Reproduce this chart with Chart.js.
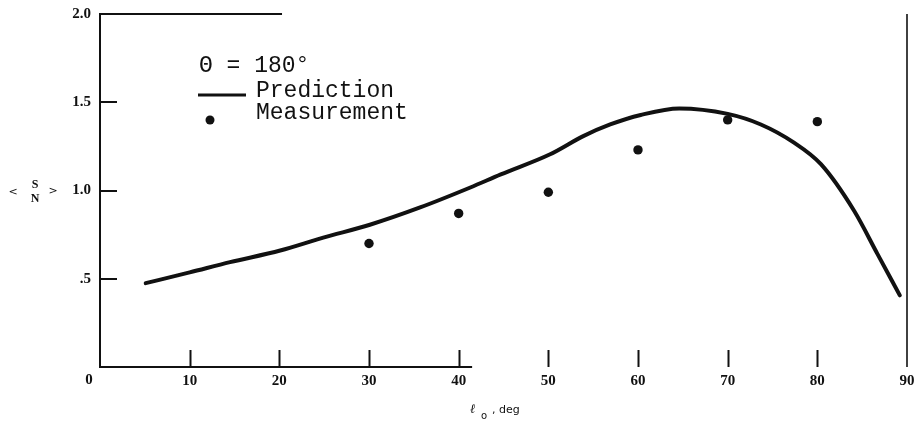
<!DOCTYPE html>
<html><head><meta charset="utf-8">
<script src="https://cdn.jsdelivr.net/npm/chart.js@4"></script>
<style>html,body{margin:0;padding:0;background:#fff}#wrap{width:917px;height:424px}</style>
</head><body><div id="wrap"><canvas id="c" width="917" height="424"></canvas></div>
<script>
// ---- data ----
const xTickValues = [0, 10, 20, 30, 40, 50, 60, 70, 80, 90];
const yTickValues = [0, 0.5, 1.0, 1.5, 2.0];
const predictionDeg = [5.1, 10, 14.5, 20.1, 24.9, 30.1, 35.7, 41.3, 44.7, 50.2, 53.9, 56.9, 60.3, 64.6, 70.0, 73.7, 77.4, 80.4, 84.1, 86.7, 89.2];
const predictionVal = [0.475, 0.536, 0.594, 0.66, 0.733, 0.806, 0.904, 1.017, 1.091, 1.205, 1.308, 1.374, 1.428, 1.465, 1.434, 1.374, 1.271, 1.149, 0.885, 0.641, 0.406];
const measurementDeg = [30, 40, 50, 60, 70, 80];
const measurementVal = [0.70, 0.87, 0.99, 1.23, 1.40, 1.39];
const legendTitle = 'Θ = 180°';
const legendPrediction = 'Prediction';
const legendMeasurement = 'Measurement';
const xTitleSymbol = 'ℓ';
const xTitleSub = 'o';
const xTitleRest = ', deg';
const xZeroLabel = '0';

const INK = '#111';

const framePlugin = {
  id: 'frame',
  afterDraw(chart) {
    const ctx = chart.ctx, a = chart.chartArea;
    const xs = chart.scales.x, ys = chart.scales.y;
    ctx.save();
    ctx.strokeStyle = INK; ctx.fillStyle = INK; ctx.lineCap = 'butt';
    // left axis
    ctx.lineWidth = 2;
    ctx.beginPath(); ctx.moveTo(a.left, a.top); ctx.lineTo(a.left, a.bottom + 1); ctx.stroke();
    // bottom axis (partially visible in scan)
    ctx.beginPath(); ctx.moveTo(a.left - 1, a.bottom); ctx.lineTo(xs.getPixelForValue(41.5), a.bottom); ctx.stroke();
    // top partial border
    ctx.beginPath(); ctx.moveTo(a.left - 1, a.top); ctx.lineTo(xs.getPixelForValue(20.3), a.top); ctx.stroke();
    // right border
    ctx.lineWidth = 1.6;
    ctx.beginPath(); ctx.moveTo(a.right, a.top); ctx.lineTo(a.right, a.bottom); ctx.stroke();
    // inward tick marks
    ctx.lineWidth = 2;
    xTickValues.forEach(v => {
      if (v === 0 || v === 90) return;
      const px = Math.round(xs.getPixelForValue(v)) + 0.5;
      ctx.beginPath(); ctx.moveTo(px, a.bottom); ctx.lineTo(px, a.bottom - 17); ctx.stroke();
    });
    yTickValues.forEach(v => {
      if (v === 0 || v === 2) return;
      const py = Math.round(ys.getPixelForValue(v));
      ctx.beginPath(); ctx.moveTo(a.left, py); ctx.lineTo(a.left + 17, py); ctx.stroke();
    });
    // shared zero label
    ctx.font = 'bold 15px "Liberation Serif"';
    ctx.textAlign = 'center'; ctx.textBaseline = 'middle';
    ctx.fillText(xZeroLabel, a.left - 11, a.bottom + 13);
    // y axis title < S / N >
    ctx.font = 'bold 12px "Liberation Serif"';
    ctx.fillText('S', 35, 185);
    ctx.fillText('N', 35, 199);
    ctx.font = '11px "DejaVu Sans"';
    ctx.fillText('<', 13, 192);
    ctx.fillText('>', 53, 191);
    // x axis title
    ctx.textAlign = 'left'; ctx.textBaseline = 'alphabetic';
    ctx.font = 'italic 13px "DejaVu Serif"';
    ctx.fillText(xTitleSymbol, 470, 413);
    ctx.font = '10px "DejaVu Sans"';
    ctx.fillText(xTitleSub, 481, 419);
    ctx.font = '11px "DejaVu Sans"';
    ctx.fillText(xTitleRest, 492, 413);
    // legend
    ctx.font = '23px "Liberation Mono"';
    ctx.fillText(legendTitle, 199, 72);
    ctx.fillText(legendPrediction, 256, 97);
    ctx.fillText(legendMeasurement, 256, 119);
    ctx.lineWidth = 3;
    ctx.beginPath(); ctx.moveTo(198, 95); ctx.lineTo(246, 95); ctx.stroke();
    ctx.beginPath(); ctx.arc(210, 120, 4.5, 0, Math.PI * 2); ctx.fill();
    ctx.restore();
  }
};

const tickFont = { family: '"Liberation Serif"', size: 15, weight: 'bold' };

new Chart(document.getElementById('c'), {
  data: {
    datasets: [
      {
        type: 'line',
        label: legendPrediction,
        data: predictionDeg.map((d, i) => ({ x: d, y: predictionVal[i] })),
        borderColor: INK,
        borderWidth: 4,
        pointRadius: 0,
        tension: 0.4,
        cubicInterpolationMode: 'monotone',
        borderCapStyle: 'round',
        borderJoinStyle: 'round',
        fill: false
      },
      {
        type: 'scatter',
        label: legendMeasurement,
        data: measurementDeg.map((d, i) => ({ x: d, y: measurementVal[i] })),
        backgroundColor: INK,
        borderColor: INK,
        borderWidth: 0,
        pointRadius: 4.7,
        showLine: false
      }
    ]
  },
  options: {
    responsive: false,
    animation: false,
    devicePixelRatio: 1,
    layout: { padding: { top: 14, right: 10, left: 0, bottom: 0 } },
    plugins: { legend: { display: false }, tooltip: { enabled: false }, title: { display: false } },
    scales: {
      x: {
        type: 'linear', min: 0, max: 90,
        afterBuildTicks: s => { s.ticks = xTickValues.map(v => ({ value: v })); },
        afterFit: s => { s.height = 57; s.paddingLeft = 0; s.paddingRight = 0; },
        grid: { display: false, drawTicks: false },
        border: { display: false },
        ticks: {
          color: INK, font: tickFont, padding: 5, maxRotation: 0,
          callback: v => (v === 0 ? '' : String(v))
        }
      },
      y: {
        type: 'linear', min: 0, max: 2,
        afterBuildTicks: s => { s.ticks = yTickValues.map(v => ({ value: v })); },
        afterFit: s => { s.width = 100; s.paddingTop = 0; s.paddingBottom = 0; },
        grid: { display: false, drawTicks: false },
        border: { display: false },
        ticks: {
          color: INK, font: tickFont, padding: 9,
          callback: v => (v === 0 ? '' : (v === 0.5 ? '.5' : v.toFixed(1)))
        }
      }
    }
  },
  plugins: [framePlugin]
});
</script>
</body></html>
